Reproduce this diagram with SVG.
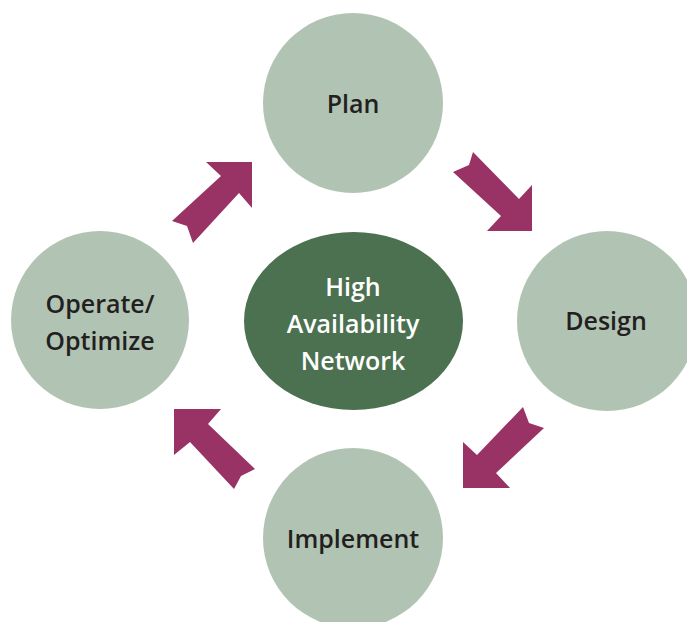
<svg xmlns="http://www.w3.org/2000/svg" width="687" height="622" viewBox="0 0 687 622">
  <style>
    .stage { fill: #b1c3b3; }
    .hub { fill: #4b7150; }
    .arrow { fill: #993366; }
    .label { font-family: "Open Sans", "Noto Sans", "DejaVu Sans", sans-serif; font-weight: 600; font-size: 25px; text-anchor: middle; fill: #231f20; }
    .hub-label { fill: #ffffff; }
  </style>
  <rect width="687" height="622" fill="#ffffff"/>

  <!-- cycle arrows between stages -->
  <g id="connectors">
    <polygon class="arrow" points="252,162 252,208 239,193 193,243 187,226 172,221 221,176 206,162"/>
    <polygon class="arrow" points="532,231 487,231 501,216 453,172 469,165 473,152 519,199 532,185"/>
    <polygon class="arrow" points="463,488 463,442 477,455 523,407 529,423 544,428 496,473 510,488"/>
    <polygon class="arrow" points="174,409 221,409 208,424 255,469 241,476 234,489 190,442 174,455"/>
  </g>

  <g id="plan">
    <circle class="stage" cx="353" cy="103" r="90"/>
    <text class="label" x="353" y="113">Plan</text>
  </g>

  <g id="design">
    <circle class="stage" cx="607" cy="321" r="90"/>
    <text class="label" x="606" y="330">Design</text>
  </g>

  <g id="implement">
    <circle class="stage" cx="353" cy="538" r="90"/>
    <text class="label" x="353" y="548">Implement</text>
  </g>

  <g id="operate">
    <circle class="stage" cx="100" cy="320" r="89"/>
    <text class="label" x="100" y="313">Operate/</text>
    <text class="label" x="100" y="350">Optimize</text>
  </g>

  <g id="hub">
    <ellipse class="hub" cx="353.5" cy="321" rx="109.5" ry="89"/>
    <text class="label hub-label" x="353" y="296">High</text>
    <text class="label hub-label" x="353" y="333">Availability</text>
    <text class="label hub-label" x="353" y="370">Network</text>
  </g>
</svg>
